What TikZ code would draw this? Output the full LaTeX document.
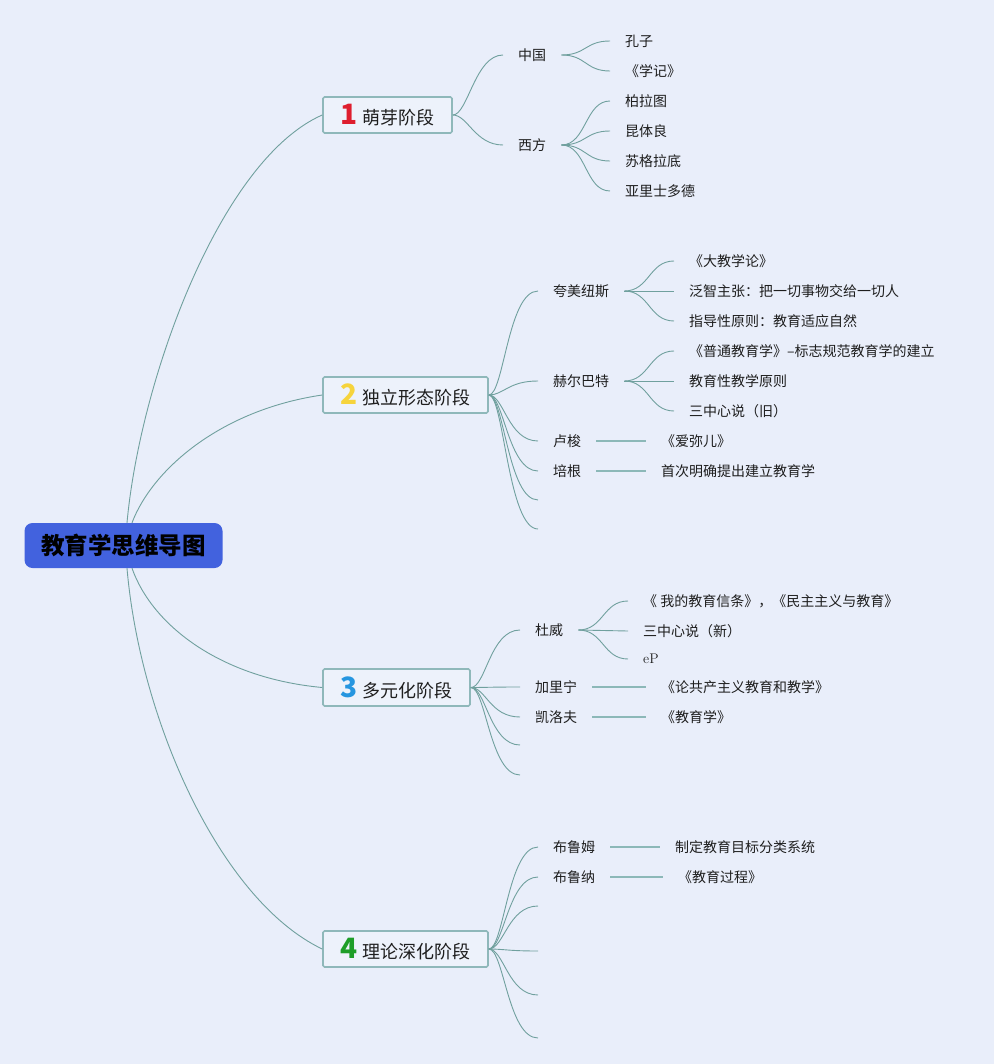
\documentclass[tikz,border=0pt]{standalone}
\usepackage{fontspec}
\newfontfamily\cjk{Noto Sans CJK SC}
\definecolor{bgc}{RGB}{233,238,250}
\definecolor{rootc}{RGB}{66,98,222}
\definecolor{lnc}{RGB}{112,160,158}
\definecolor{hlc}{RGB}{140,184,184}
\definecolor{boxc}{RGB}{143,184,186}
\definecolor{boxf}{RGB}{237,242,251}
\definecolor{txc}{RGB}{30,30,30}
\definecolor{n1}{RGB}{222,30,46}
\definecolor{n2}{RGB}{246,212,60}
\definecolor{n3}{RGB}{38,150,224}
\definecolor{n4}{RGB}{30,158,40}
\newcommand{\stnum}[2]{{\fontsize{28}{28}\selectfont\bfseries\color{#1}#2}\hspace{5pt}}
\begin{document}
\begin{tikzpicture}[x=1pt,y=-1pt,
  root/.style={fill=rootc,rounded corners=8pt,minimum width=198pt,minimum height=45pt,
    inner sep=0pt,font=\cjk\bfseries\fontsize{23.5}{26}\selectfont,text=black},
  stage/.style={draw=boxc,line width=1.6pt,fill=boxf,rounded corners=1.5pt,minimum height=36pt,
    inner sep=0pt,font=\cjk\fontsize{18}{20}\selectfont,text=txc},
  t/.style={anchor=west,inner xsep=15pt,inner ysep=2pt,font=\cjk\fontsize{14}{17}\selectfont,text=txc},
  ln/.style={draw=lnc,line width=0.9pt},
  hl/.style={draw=hlc,line width=1.5pt}
]
\fill[bgc] (0,0) rectangle (994,1064);
\useasboundingbox (0,0) rectangle (994,1064);

% root
\node[root] (root) at (123.5,545.5) {教育学思维导图};

% stages
\node[stage,minimum width=129pt] (s1) at (387.5,115) {\stnum{n1}{1}萌芽阶段};
\node[stage,minimum width=165pt] (s2) at (405.5,395) {\stnum{n2}{2}独立形态阶段};
\node[stage,minimum width=147pt,minimum height=37pt] (s3) at (396.5,687.5) {\stnum{n3}{3}多元化阶段};
\node[stage,minimum width=165pt] (s4) at (405.5,949) {\stnum{n4}{4}理论深化阶段};

% root connectors
\coordinate (r1) at ([xshift=3.5pt]root.north);
\coordinate (r2) at ([xshift=8.5pt]root.north);
\coordinate (r3) at ([xshift=8.5pt]root.south);
\coordinate (r4) at ([xshift=3.5pt]root.south);
\draw[ln] (r1) .. controls (140,380) and (220,160) .. (s1.west);
\draw[ln] (r2) .. controls (152,470) and (220,410) .. (s2.west);
\draw[ln] (r3) .. controls (152,625) and (220,678) .. (s3.west);
\draw[ln] (r4) .. controls (140,720) and (220,900) .. (s4.west);

% ---------- stage 1
\node[t] (zg) at (503,55) {中国};
\node[t] (xf) at (503,145) {西方};
\draw[ln] (s1.east) .. controls +(15,0) and +(-28,0) .. (zg.west);
\draw[ln] (s1.east) .. controls +(15,0) and +(-28,0) .. (xf.west);
\node[t] (kz) at (610,41) {孔子};
\node[t] (xj) at (610,71) {《学记》};
\node[t] (blt) at (610,101) {柏拉图};
\node[t] (ktl) at (610,131) {昆体良};
\node[t] (sgld) at (610,161) {苏格拉底};
\node[t] (ylsdd) at (610,191) {亚里士多德};
\foreach \c in {kz,xj} \draw[ln] (zg.east) .. controls +(25,0) and +(-25,0) .. (\c.west);
\foreach \c in {blt,ktl,sgld,ylsdd} \draw[ln] (xf.east) .. controls +(25,0) and +(-25,0) .. (\c.west);

% ---------- stage 2
\node[t] (kmns) at (538,291) {夸美纽斯};
\node[t] (hebt) at (538,381) {赫尔巴特};
\node[t] (ls) at (538,441) {卢梭};
\node[t] (pg) at (538,471) {培根};
\coordinate (e21) at (538,500);
\coordinate (e22) at (538,529);
\foreach \c in {kmns,hebt,ls,pg} \draw[ln] (s2.east) .. controls +(15,0) and +(-30,0) .. (\c.west);
\foreach \c in {e21,e22} \draw[ln] (s2.east) .. controls +(15,0) and +(-30,0) .. (\c);
\node[t] (dj) at (674,261) {《大教学论》};
\node[t] (fz) at (674,291) {泛智主张：把一切事物交给一切人};
\node[t] (zd) at (674,321) {指导性原则：教育适应自然};
\foreach \c in {dj,fz,zd} \draw[ln] (kmns.east) .. controls +(25,0) and +(-25,0) .. (\c.west);
\node[t] (pt) at (674,351) {《普通教育学》–标志规范教育学的建立};
\node[t] (jyx) at (674,381) {教育性教学原则};
\node[t] (szj) at (674,411) {三中心说（旧）};
\foreach \c in {pt,jyx,szj} \draw[ln] (hebt.east) .. controls +(25,0) and +(-25,0) .. (\c.west);
\node[t] (amr) at (646,441) {《爱弥儿》};
\node[t] (sc) at (646,471) {首次明确提出建立教育学};
\draw[hl] (ls.east) -- (amr.west);
\draw[hl] (pg.east) -- (sc.west);

% ---------- stage 3
\node[t] (dw) at (520,630) {杜威};
\node[t] (jln) at (520,687) {加里宁};
\node[t] (klf) at (520,717) {凯洛夫};
\coordinate (e31) at (520,745);
\coordinate (e32) at (520,775);
\foreach \c in {dw,jln,klf} \draw[ln] (s3.east) .. controls +(15,0) and +(-30,0) .. (\c.west);
\foreach \c in {e31,e32} \draw[ln] (s3.east) .. controls +(15,0) and +(-30,0) .. (\c);
\node[t] (wd) at (628,601) {《 我的教育信条》，《民主主义与教育》};
\node[t] (szx) at (628,631) {三中心说（新）};
\node[anchor=west,inner xsep=15pt,inner ysep=2pt,font=\fontsize{14}{16}\selectfont,text=txc] (ep) at (628,659) {eP};
\foreach \c in {wd,szx,ep} \draw[ln] (dw.east) .. controls +(25,0) and +(-25,0) .. (\c.west);
\node[t] (lgc) at (646,687) {《论共产主义教育和教学》};
\node[t] (jyx3) at (646,717) {《教育学》};
\draw[hl] (jln.east) -- (lgc.west);
\draw[hl] (klf.east) -- (jyx3.west);

% ---------- stage 4
\node[t] (blm) at (538,847) {布鲁姆};
\node[t] (bln) at (538,877) {布鲁纳};
\coordinate (e41) at (538,906);
\coordinate (e42) at (538,951);
\coordinate (e43) at (538,995);
\coordinate (e44) at (538,1038);
\foreach \c in {blm,bln} \draw[ln] (s4.east) .. controls +(15,0) and +(-30,0) .. (\c.west);
\foreach \c in {e41,e42,e43,e44} \draw[ln] (s4.east) .. controls +(15,0) and +(-30,0) .. (\c);
\node[t] (zdjy) at (660,847) {制定教育目标分类系统};
\node[t] (jygc) at (663,877) {《教育过程》};
\draw[hl] (blm.east) -- (zdjy.west);
\draw[hl] (bln.east) -- (jygc.west);
\end{tikzpicture}
\end{document}
